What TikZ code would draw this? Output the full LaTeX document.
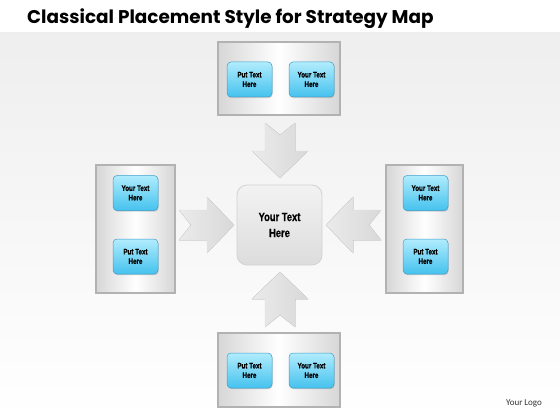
\documentclass[tikz,border=0pt]{standalone}
\usepackage{fontspec}
\setmainfont{Liberation Sans}
\newfontfamily\titlefont{Poppins}
\newfontfamily\condfont[FakeStretch=0.78,BoldFeatures={FakeBold=0.6}]{Liberation Sans}
\newfontfamily\logofont{Carlito}
\usetikzlibrary{shadows}
\definecolor{btop}{HTML}{B0ECFD}
\definecolor{bbot}{HTML}{45C2EE}
\definecolor{bedge}{HTML}{3A9FCC}
\tikzset{
  frame/.style={draw=gray!60, line width=1.6pt, inner sep=0pt,
    left color=gray!32, right color=gray!32, middle color=white,
    drop shadow={opacity=0.15, shadow xshift=0.8pt, shadow yshift=-0.8pt}},
  btn/.style={draw=bedge, line width=0.5pt, rounded corners=4pt,
    minimum width=45pt, minimum height=35pt, inner sep=1pt,
    top color=btop, bottom color=bbot, align=center, text=black,
    font=\condfont\bfseries\fontsize{8}{9.5}\selectfont,
    drop shadow={opacity=0.35, shadow xshift=0.6pt, shadow yshift=-1.2pt}},
  centre/.style={draw=gray!35, line width=0.8pt, rounded corners=10pt,
    minimum width=85pt, minimum height=80pt, top color=gray!10, bottom color=gray!27,
    align=center, text=black, font=\condfont\bfseries\fontsize{12}{16}\selectfont},
  blockarrow/.style={left color=gray!16, right color=gray!30, draw=gray!25, line width=0.4pt}
}
\begin{document}
\begin{tikzpicture}[x=1pt,y=-1pt]
\useasboundingbox (0,0) rectangle (560,420);
\fill[white] (0,0) rectangle (560,420);
\shade[top color=gray!13, bottom color=white] (0,33) rectangle (560,420);

\node[anchor=west, inner sep=0pt, font=\titlefont\bfseries\fontsize{18.4}{22}\selectfont] (title) at (27,19) {Classical Placement Style for Strategy Map};

% frames
\node[frame, minimum width=122pt, minimum height=73pt] (ftop) at (279,78.5) {};
\node[frame, minimum width=122pt, minimum height=74pt] (fbot) at (279,370) {};
\node[frame, minimum width=79pt, minimum height=128pt] (fleft) at (135.5,229) {};
\node[frame, minimum width=77pt, minimum height=128pt] (fright) at (424.5,229) {};

% buttons
\node[btn] (t1) at (249.5,79.5) {Put Text\\Here};
\node[btn] (t2) at (311.5,79.5) {Your Text\\Here};
\node[btn] (l1) at (135.5,193) {Your Text\\Here};
\node[btn] (l2) at (135.5,256.5) {Put Text\\Here};
\node[btn] (r1) at (425.5,193) {Your Text\\Here};
\node[btn] (r2) at (425.5,256.5) {Put Text\\Here};
\node[btn] (b1) at (249.5,370.5) {Put Text\\Here};
\node[btn] (b2) at (311.5,370.5) {Your Text\\Here};

% centre
\node[centre] (c) at (279.5,225) {Your Text\\Here};

% block arrows
\filldraw[blockarrow] (280,178) -- (308,151) -- (295,151) -- (295,123) -- (280,135) -- (265,123) -- (265,151) -- (252,151) -- cycle;
\filldraw[blockarrow] (280,272) -- (308,299) -- (295,299) -- (295,327) -- (280,315) -- (265,327) -- (265,299) -- (252,299) -- cycle;
\filldraw[blockarrow] (234,225) -- (207,253) -- (207,240) -- (179,240) -- (191,225) -- (179,210) -- (207,210) -- (207,197) -- cycle;
\filldraw[blockarrow] (326,225) -- (353,253) -- (353,240) -- (381,240) -- (369,225) -- (381,210) -- (353,210) -- (353,197) -- cycle;

\node[font=\logofont\fontsize{9}{10}\selectfont, text=black!80] (logo) at (524,403) {Your Logo};
\end{tikzpicture}
\end{document}
